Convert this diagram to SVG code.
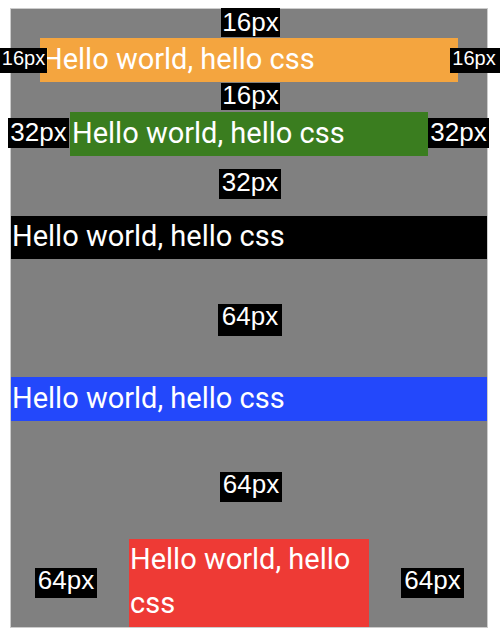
<svg xmlns="http://www.w3.org/2000/svg" width="500" height="640" viewBox="0 0 500 640">
  <style>
    .hello { font-family: Roboto, "Liberation Sans", sans-serif; font-size: 29px; fill: #ffffff; }
    .tag { fill: #000000; }
    .tagtxt { font-family: "Liberation Sans", Arial, sans-serif; font-size: 26px; fill: #ffffff; text-anchor: middle; }
    .tagsm { font-family: "Liberation Sans", Arial, sans-serif; font-size: 20px; fill: #ffffff; text-anchor: middle; }
  </style>
  <rect width="500" height="640" fill="#ffffff"/>
  <!-- container -->
  <g id="container">
    <rect x="10.5" y="8.5" width="477" height="619" fill="#808080" stroke="#cccccc" stroke-width="1"/>
  </g>

  <!-- boxes -->
  <g id="box-orange">
    <rect x="40" y="38" width="418" height="44" fill="#f4a53f"/>
    <text class="hello" x="42" y="69">Hello world, hello css</text>
  </g>
  <g id="box-green">
    <rect x="70" y="112" width="358" height="44" fill="#3a7d1f"/>
    <text class="hello" x="72" y="143">Hello world, hello css</text>
  </g>
  <g id="box-black">
    <rect x="11" y="216" width="476" height="43" fill="#000000"/>
    <text class="hello" x="12" y="246">Hello world, hello css</text>
  </g>
  <g id="box-blue">
    <rect x="11" y="377" width="476" height="44" fill="#2348fb"/>
    <text class="hello" x="12" y="408">Hello world, hello css</text>
  </g>
  <g id="box-red">
    <rect x="129" y="539" width="240" height="88" fill="#ee3a35"/>
    <text class="hello" x="130" y="569">Hello world, hello</text>
    <text class="hello" x="130" y="613">css</text>
  </g>

  <!-- spacing labels -->
  <g id="labels">
    <rect class="tag" x="221" y="8" width="59" height="29"/>
    <text class="tagtxt" x="250.5" y="31">16px</text>
    <rect class="tag" x="0" y="48" width="47" height="25"/>
    <text class="tagsm" x="23.5" y="65">16px</text>
    <rect class="tag" x="450" y="48" width="50" height="25"/>
    <text class="tagsm" x="474" y="65">16px</text>
    <rect class="tag" x="221" y="83" width="59" height="27"/>
    <text class="tagtxt" x="250.5" y="104">16px</text>

    <rect class="tag" x="8" y="118" width="61" height="30"/>
    <text class="tagtxt" x="38.5" y="141">32px</text>
    <rect class="tag" x="428" y="118" width="61" height="30"/>
    <text class="tagtxt" x="458.5" y="141">32px</text>
    <rect class="tag" x="219" y="169" width="62" height="30"/>
    <text class="tagtxt" x="250" y="191">32px</text>

    <rect class="tag" x="218" y="304" width="64" height="32"/>
    <text class="tagtxt" x="250" y="325">64px</text>
    <rect class="tag" x="220" y="472" width="62" height="30"/>
    <text class="tagtxt" x="251" y="493">64px</text>

    <rect class="tag" x="35" y="568" width="62" height="30"/>
    <text class="tagtxt" x="66" y="589">64px</text>
    <rect class="tag" x="401" y="568" width="63" height="30"/>
    <text class="tagtxt" x="432.5" y="589">64px</text>
  </g>
</svg>
